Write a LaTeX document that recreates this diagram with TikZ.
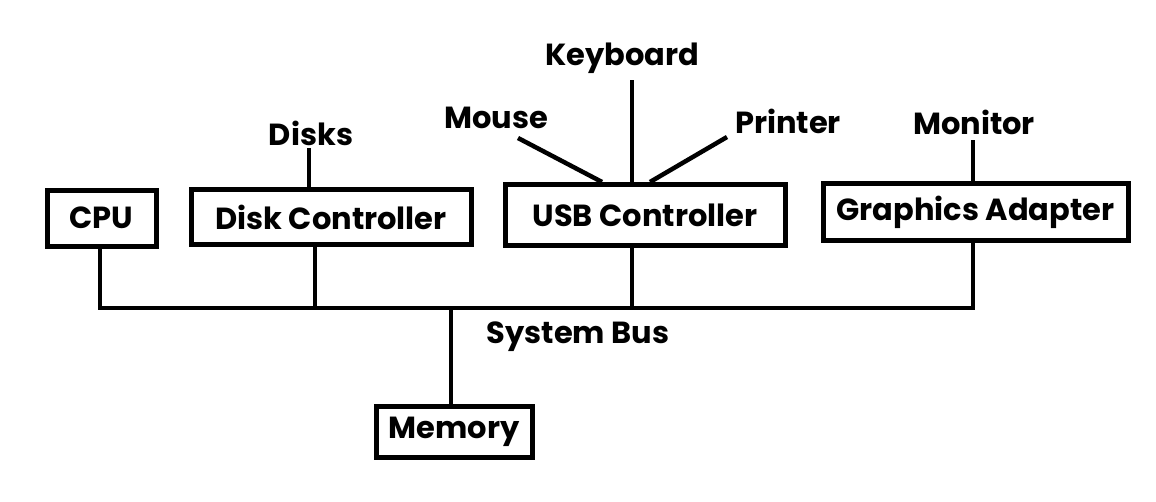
\documentclass[tikz,border=0pt]{standalone}
\usepackage{fontspec}
\setmainfont{Poppins}
\usetikzlibrary{positioning}

\tikzset{
  unit/.style={draw,line width=5pt,inner sep=0pt,font=\bfseries\fontsize{30.5}{34}\selectfont},
  dev/.style={inner sep=0pt,font=\bfseries\fontsize{30.5}{34}\selectfont},
  wire/.style={line width=4.5pt}
}

\begin{document}
\begin{tikzpicture}[x=1pt,y=-1pt]
  \useasboundingbox (0,0) rectangle (1156,501);
  % units on the bus
  \node[unit,minimum width=109pt,minimum height=56pt] (cpu) at (101.5,218) {CPU};
  \node[unit,minimum width=280pt,minimum height=55pt] (diskctl) at (331,217) {Disk Controller};
  \node[unit,minimum width=280pt,minimum height=61pt] (usbctl) at (645,215) {USB Controller};
  \node[unit,minimum width=305pt,minimum height=57pt] (gfx) at (975.5,212) {Graphics Adapter};
  \node[unit,minimum width=156pt,minimum height=51pt] (mem) at (454,431.5) {Memory};
  % devices
  \node[dev] (disks) at (311,133) {Disks};
  \node[dev] (kbd) at (622,58) {Keyboard};
  \node[dev] (mouse) at (496,118) {Mouse};
  \node[dev] (printer) at (788,121) {Printer};
  \node[dev] (monitor) at (974,122) {Monitor};
  \node[dev] (busname) at (578,337) {System Bus};
  % bus taps
  \coordinate (tcpu) at (100,308);
  \coordinate (tdisk) at (315,308);
  \coordinate (tusb) at (632,308);
  \coordinate (tgfx) at (973,308);
  \coordinate (tmem) at (451,308);
  \draw[wire] (cpu.south -| tcpu) |- (tgfx) -- (gfx.south -| tgfx);
  \draw[wire] (diskctl.south -| tdisk) -- (tdisk);
  \draw[wire] (usbctl.south -| tusb) -- (tusb);
  \draw[wire] (tmem) -- (mem.north -| tmem);
  % device links
  \coordinate (ldisk) at (309,148);
  \coordinate (lkbd) at (632,80);
  \coordinate (lmouse) at (518,138);
  \coordinate (lprinter) at (727,137);
  \coordinate (lmon) at (973,140);
  \draw[wire] (ldisk) -- (diskctl.north -| ldisk);
  \draw[wire] (lkbd) -- (usbctl.north -| lkbd);
  \draw[wire] (lmouse) -- ([xshift=-30pt]usbctl.north -| lkbd);
  \draw[wire] (lprinter) -- ([xshift=18pt]usbctl.north -| lkbd);
  \draw[wire] (lmon) -- (gfx.north -| lmon);
\end{tikzpicture}
\end{document}
